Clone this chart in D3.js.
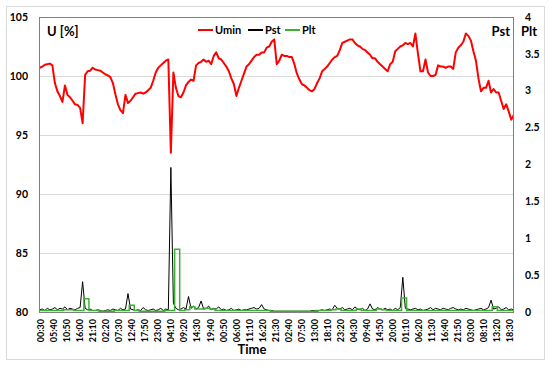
<!DOCTYPE html>
<html>
<head>
<meta charset="utf-8">
<script src="https://cdn.jsdelivr.net/npm/d3@7"></script>
<style>
  body { margin: 0; background: #fff; }
  text { font-family: Lato, "Open Sans", sans-serif; font-weight: bold; fill: #000; }
</style>
</head>
<body>
<div id="chart"></div>
<script>
// hourly samples, hour 0 = 00:00 of the first day
var uminValues = [
  100.7, 100.8, 100.95, 101.0, 101.05, 100.9, 99.4, 98.7, 98.3, 97.8,
  99.2, 98.4, 98.2, 97.9, 97.6, 97.55, 97.3, 96.0, 100.1, 100.4,
  100.45, 100.7, 100.55, 100.5, 100.45, 100.3, 100.15, 100.05, 99.9, 99.4,
  98.45, 97.6, 97.1, 96.85, 98.4, 97.7, 97.9, 98.2, 98.5, 98.55,
  98.6, 98.5, 98.6, 98.8, 99.0, 99.6, 100.3, 100.7, 100.9, 101.1,
  101.3, 101.4, 93.5, 100.3, 99.0, 98.3, 98.2, 98.6, 99.2, 99.5,
  99.7, 99.6, 100.9, 101.1, 101.2, 101.4, 101.2, 101.3, 101.0, 101.7,
  102.0, 101.5, 101.4, 101.1, 100.8, 100.4, 99.8, 99.3, 98.3, 99.0,
  99.6, 100.2, 100.8, 101.0, 101.3, 101.6, 101.8, 101.8, 102.0, 102.0,
  102.4, 102.5, 102.9, 103.1, 101.0, 101.3, 101.8, 101.7, 101.7, 101.6,
  101.6, 101.0, 100.2, 99.7, 99.3, 99.2, 99.0, 98.8, 98.7, 98.9,
  99.4, 99.8, 100.4, 100.6, 100.8, 101.1, 101.4, 101.6, 101.7, 102.2,
  102.8, 102.9, 103.0, 103.1, 103.1, 102.8, 102.6, 102.5, 102.3, 102.2,
  102.0, 101.8, 101.5, 101.5, 101.2, 101.0, 100.8, 100.6, 100.4, 101.0,
  101.2, 102.1, 102.3, 102.5, 102.6, 102.8, 102.7, 102.8, 102.5, 103.6,
  101.9, 100.4, 100.4, 101.4, 100.3, 100.0, 100.0, 100.1, 100.9, 100.8,
  100.8, 100.7, 100.8, 100.8, 100.6, 102.0, 102.4, 102.6, 102.9, 103.6,
  103.4, 103.0, 102.1, 101.3, 99.8, 98.7, 99.0, 99.0, 99.6, 98.6,
  98.9, 98.6, 98.6, 97.9, 97.2, 97.6, 97.0, 96.3, 96.7
];

var pstValues = [
  0.03, 0.04, 0.02, 0.05, 0.03, 0.04, 0.06, 0.03, 0.05, 0.04,
  0.07, 0.03, 0.05, 0.04, 0.03, 0.05, 0.06, 0.41, 0.05, 0.03,
  0.04, 0.02, 0.02, 0.03, 0.02, 0.01, 0.02, 0.03, 0.02, 0.04,
  0.03, 0.02, 0.05, 0.03, 0.04, 0.25, 0.04, 0.03, 0.02, 0.03,
  0.02, 0.06, 0.03, 0.02, 0.03, 0.04, 0.02, 0.03, 0.05, 0.02,
  0.04, 0.03, 1.96, 0.12, 0.05, 0.03, 0.04, 0.06, 0.04, 0.21,
  0.05, 0.08, 0.04, 0.06, 0.15, 0.04, 0.05, 0.08, 0.03, 0.05,
  0.04, 0.07, 0.03, 0.04, 0.02, 0.03, 0.05, 0.02, 0.03, 0.04,
  0.02, 0.03, 0.03, 0.04, 0.05, 0.06, 0.04, 0.05, 0.10, 0.04,
  0.03, 0.02, 0.02, 0.01, 0.01, 0.01, 0.01, 0.01, 0.01, 0.01,
  0.01, 0.01, 0.01, 0.01, 0.01, 0.01, 0.01, 0.01, 0.02, 0.02,
  0.01, 0.02, 0.03, 0.02, 0.03, 0.04, 0.03, 0.09, 0.05, 0.04,
  0.06, 0.03, 0.04, 0.05, 0.03, 0.07, 0.04, 0.03, 0.05, 0.02,
  0.04, 0.11, 0.04, 0.03, 0.06, 0.04, 0.03, 0.05, 0.03, 0.04,
  0.02, 0.05, 0.03, 0.06, 0.47, 0.05, 0.04, 0.03, 0.04, 0.05,
  0.03, 0.04, 0.02, 0.03, 0.04, 0.06, 0.03, 0.05, 0.04, 0.03,
  0.05, 0.04, 0.03, 0.05, 0.06, 0.04, 0.03, 0.04, 0.03, 0.05,
  0.04, 0.03, 0.02, 0.03, 0.04, 0.05, 0.03, 0.04, 0.06, 0.16,
  0.04, 0.05, 0.07, 0.03, 0.04, 0.06, 0.03, 0.04, 0.03
];

// Plt: one value per 2 hour block, first block starts half an hour before hour 0
var pltValues = [
  0.02, 0.02, 0.02, 0.02, 0.02, 0.03, 0.03, 0.02, 0.02, 0.18,
  0.02, 0.02, 0.01, 0.01, 0.01, 0.02, 0.02, 0.02, 0.09, 0.02,
  0.01, 0.01, 0.01, 0.01, 0.01, 0.02, 0.02, 0.85, 0.02, 0.03,
  0.07, 0.04, 0.04, 0.05, 0.04, 0.02, 0.02, 0.02, 0.02, 0.02,
  0.02, 0.02, 0.02, 0.02, 0.02, 0.02, 0.01, 0.01, 0.01, 0.01,
  0.01, 0.01, 0.01, 0.01, 0.01, 0.02, 0.02, 0.02, 0.03, 0.04,
  0.02, 0.02, 0.02, 0.04, 0.02, 0.02, 0.02, 0.04, 0.03, 0.02,
  0.02, 0.02, 0.19, 0.02, 0.02, 0.02, 0.02, 0.02, 0.02, 0.02,
  0.02, 0.02, 0.02, 0.02, 0.02, 0.02, 0.02, 0.02, 0.02, 0.02,
  0.07, 0.02, 0.02, 0.02, 0.02
];

var timeLabels = [
  "00:30", "05:40", "10:50", "16:00", "21:10", "02:20", "07:30", "12:40",
  "17:50", "23:00", "04:10", "09:20", "14:30", "19:40", "00:50", "06:00",
  "11:10", "16:20", "21:30", "02:40", "07:50", "13:00", "18:10", "23:20",
  "04:30", "09:40", "14:50", "20:00", "01:10", "06:20", "11:30", "16:40",
  "21:50", "03:00", "08:10", "13:20", "18:30"
];
var leftTicks = [80, 85, 90, 95, 100, 105];
var rightTicks = [0, 0.5, 1, 1.5, 2, 2.5, 3, 3.5, 4];

var legendItems = [
  { name: "Umin", color: "#ff0000" },
  { name: "Pst", color: "#000000" },
  { name: "Plt", color: "#3cb034" }
];

var width = 550, height = 367;
var plot = { left: 39, right: 514, top: 17, bottom: 312 };

var svg = d3
  .select("#chart")
  .append("svg")
  .attr("width", width)
  .attr("height", height);

// outer chart frame
svg
  .append("rect")
  .attr("x", 6.5)
  .attr("y", 6.5)
  .attr("width", 538)
  .attr("height", 353)
  .attr("fill", "#fff")
  .attr("stroke", "#d9d9d9");

var x = d3.scaleLinear().domain([-0.3, 188.1]).range([plot.left, plot.right]);
var yLeft = d3.scaleLinear().domain([80, 105]).range([plot.bottom, plot.top]);
var yRight = d3.scaleLinear().domain([0, 4]).range([plot.bottom, plot.top]);

// gridlines
svg
  .append("g")
  .selectAll("line")
  .data(leftTicks.slice(1, -1))
  .enter()
  .append("line")
  .attr("x1", plot.left)
  .attr("x2", plot.right)
  .attr("y1", function (d) { return Math.round(yLeft(d)) + 0.5; })
  .attr("y2", function (d) { return Math.round(yLeft(d)) + 0.5; })
  .attr("stroke", "#d9d9d9");

svg
  .append("clipPath")
  .attr("id", "clip")
  .append("rect")
  .attr("x", plot.left)
  .attr("y", plot.top)
  .attr("width", plot.right - plot.left)
  .attr("height", plot.bottom - plot.top);

var series = svg.append("g").attr("clip-path", "url(#clip)");

var pstLine = d3
  .line()
  .x(function (d, i) { return x(i); })
  .y(function (d) { return yRight(d); });

series
  .append("path")
  .datum(pstValues)
  .attr("fill", "none")
  .attr("stroke", "#000")
  .attr("stroke-width", 1)
  .attr("d", pstLine);

// Plt blocks as a step line
var pltPoints = pltValues.map(function (v, k) { return [2 * k - 0.5, v]; });
pltPoints.push([2 * pltValues.length - 0.5, pltValues[pltValues.length - 1]]);

series
  .append("path")
  .datum(pltPoints)
  .attr("fill", "none")
  .attr("stroke", "#3cb034")
  .attr("stroke-width", 1.5)
  .attr(
    "d",
    d3
      .line()
      .curve(d3.curveStepAfter)
      .x(function (d) { return x(d[0]); })
      .y(function (d) { return yRight(d[1]); })
  );

series
  .append("path")
  .datum(uminValues)
  .attr("fill", "none")
  .attr("stroke", "#ff0000")
  .attr("stroke-width", 2)
  .attr("stroke-linejoin", "round")
  .attr(
    "d",
    d3
      .line()
      .x(function (d, i) { return x(i); })
      .y(function (d) { return yLeft(d); })
  );

// plot area border
svg
  .append("rect")
  .attr("x", plot.left + 0.5)
  .attr("y", plot.top + 0.5)
  .attr("width", plot.right - plot.left - 1)
  .attr("height", plot.bottom - plot.top)
  .attr("fill", "none")
  .attr("stroke", "#808080");

// left axis labels
svg
  .append("g")
  .selectAll("text")
  .data(leftTicks)
  .enter()
  .append("text")
  .attr("x", 28)
  .attr("y", function (d) { return yLeft(d); })
  .attr("dy", "0.35em")
  .attr("text-anchor", "end")
  .style("font-size", "10.5px")
  .text(function (d) { return d; });

// right axis labels
svg
  .append("g")
  .selectAll("text")
  .data(rightTicks)
  .enter()
  .append("text")
  .attr("x", 525)
  .attr("y", function (d) { return yRight(d); })
  .attr("dy", "0.35em")
  .style("font-size", "10.5px")
  .text(function (d) { return d; });

// time labels, one every 31 ten-minute steps
svg
  .append("g")
  .selectAll("text")
  .data(timeLabels)
  .enter()
  .append("text")
  .attr("transform", function (d, k) {
    return "translate(" + x(0.5 + (k * 31) / 6) + ",319) rotate(-90)";
  })
  .attr("dy", "0.35em")
  .attr("text-anchor", "end")
  .style("font-size", "9px")
  .text(function (d) { return d; });

// titles
svg.append("text").attr("x", 47).attr("y", 36).style("font-size", "13px").text("U [%]");
svg.append("text").attr("x", 510).attr("y", 36).attr("text-anchor", "end").style("font-size", "13px").text("Pst");
svg.append("text").attr("x", 521).attr("y", 36).style("font-size", "13px").text("Plt");
svg.append("text").attr("x", 252).attr("y", 354).attr("text-anchor", "middle").style("font-size", "13px").text("Time");

// legend
var legendX = [198, 248, 285];
var legend = svg
  .append("g")
  .selectAll("g")
  .data(legendItems)
  .enter()
  .append("g")
  .attr("transform", function (d, i) { return "translate(" + legendX[i] + ",30)"; });

legend
  .append("line")
  .attr("x1", 0)
  .attr("x2", 15)
  .attr("stroke", function (d) { return d.color; })
  .attr("stroke-width", 2);

legend
  .append("text")
  .attr("x", 17)
  .attr("dy", "0.35em")
  .style("font-size", "11px")
  .text(function (d) { return d.name; });
</script>
</body>
</html>
